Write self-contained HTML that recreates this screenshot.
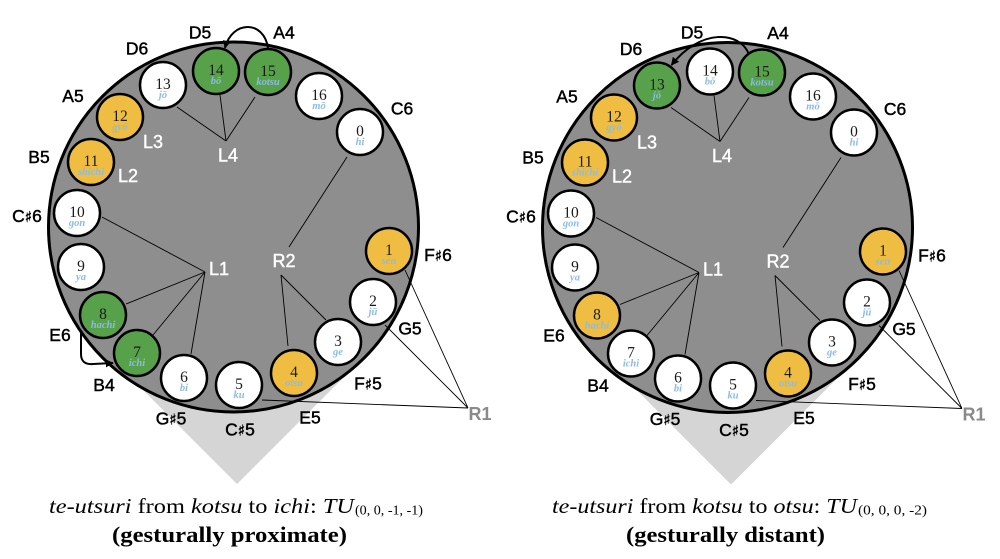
<!DOCTYPE html>
<html>
<head>
<meta charset="utf-8">
<style>
  html, body { margin:0; padding:0; background:#fff; }
  body { width:1000px; height:559px; overflow:hidden; }
  svg { display:block; }
  .n { font-family:"Liberation Serif", serif; font-size:15.5px; fill:#1a1a1a; text-anchor:middle; }
  .s { font-family:"Liberation Serif", serif; font-style:italic; font-weight:bold; font-size:10.5px; fill:#8cbbe3; text-anchor:middle; }
  .lb { font-family:"Liberation Sans", sans-serif; font-size:17.5px; fill:#000; stroke:#000; stroke-width:0.45; text-anchor:middle; }
  .sh { font-family:"DejaVu Sans", sans-serif; font-size:15px; }
  .w { font-family:"Liberation Sans", sans-serif; font-size:18px; fill:#fff; stroke:#fff; stroke-width:0.4; text-anchor:middle; }
  .r1 { font-family:"Liberation Sans", sans-serif; font-size:18px; fill:#8a8a8a; text-anchor:middle; font-weight:bold; }
  .cap { font-family:"Liberation Serif", serif; fill:#000; }
</style>
</head>
<body>
<svg width="1000" height="559" viewBox="0 0 1000 559" xmlns="http://www.w3.org/2000/svg">
  <defs>
    <marker id="ah" viewBox="0 0 10 10" refX="9" refY="5" markerWidth="8" markerHeight="8" orient="auto" markerUnits="userSpaceOnUse">
      <path d="M0,0L10,5L0,10z" fill="#000"/>
    </marker>
  </defs>

  <!-- LEFT DIAGRAM -->
  <g>
    <polygon points="237,484 127,374 347,374" fill="#d5d5d5"/>
    <circle cx="233.5" cy="227" r="185" fill="#8e8e8e" stroke="#000" stroke-width="3"/>
    <g stroke="#000" stroke-width="0.9" fill="none">
      <path d="M226,141L177,107M226,141L220,95M226,141L255,97"/>
      <path d="M205,272L102,217M205,272L126,304M205,272L153,335M205,272L191,354"/>
      <path d="M347,157L289,247M281,275L288,346M281,275L326,320"/>
      <path d="M468,408L405,270M468,408L385,325M468,408L262,400"/>
    </g>
    <g stroke="#000" stroke-width="2.5">
      <g transform="translate(360,132)"><circle r="23" fill="#fff"/><text class="n" y="4" stroke="none">0</text><text class="s" y="13" stroke="none">hi</text></g>
      <g transform="translate(389,251)"><circle r="23" fill="#eebd42"/><text class="n" y="4" stroke="none">1</text><text class="s" y="13" stroke="none">sen</text></g>
      <g transform="translate(373,302)"><circle r="23" fill="#fff"/><text class="n" y="4" stroke="none">2</text><text class="s" y="13" stroke="none">jū</text></g>
      <g transform="translate(338,342)"><circle r="23" fill="#fff"/><text class="n" y="4" stroke="none">3</text><text class="s" y="13" stroke="none">ge</text></g>
      <g transform="translate(294,373)"><circle r="23" fill="#eebd42"/><text class="n" y="4" stroke="none">4</text><text class="s" y="13" stroke="none">otsu</text></g>
      <g transform="translate(239,385)"><circle r="23" fill="#fff"/><text class="n" y="4" stroke="none">5</text><text class="s" y="13" stroke="none">ku</text></g>
      <g transform="translate(184,378)"><circle r="23" fill="#fff"/><text class="n" y="4" stroke="none">6</text><text class="s" y="13" stroke="none">bi</text></g>
      <g transform="translate(137,353)"><circle r="23" fill="#58a14b"/><text class="n" y="4" stroke="none">7</text><text class="s" y="13" stroke="none">ichi</text></g>
      <g transform="translate(103,315)"><circle r="23" fill="#58a14b"/><text class="n" y="4" stroke="none">8</text><text class="s" y="13" stroke="none">hachi</text></g>
      <g transform="translate(81,267)"><circle r="23" fill="#fff"/><text class="n" y="4" stroke="none">9</text><text class="s" y="13" stroke="none">ya</text></g>
      <g transform="translate(77,213)"><circle r="23" fill="#fff"/><text class="n" y="4" stroke="none">10</text><text class="s" y="13" stroke="none">gon</text></g>
      <g transform="translate(91,162)"><circle r="23" fill="#eebd42"/><text class="n" y="4" stroke="none">11</text><text class="s" y="13" stroke="none">shichi</text></g>
      <g transform="translate(120,117)"><circle r="23" fill="#eebd42"/><text class="n" y="4" stroke="none">12</text><text class="s" y="13" stroke="none">gyō</text></g>
      <g transform="translate(163,85)"><circle r="23" fill="#fff"/><text class="n" y="4" stroke="none">13</text><text class="s" y="13" stroke="none">jō</text></g>
      <g transform="translate(216,71)"><circle r="23" fill="#58a14b"/><text class="n" y="4" stroke="none">14</text><text class="s" y="13" stroke="none">bō</text></g>
      <g transform="translate(268,72)"><circle r="23" fill="#58a14b"/><text class="n" y="4" stroke="none">15</text><text class="s" y="13" stroke="none">kotsu</text></g>
      <g transform="translate(319,96)"><circle r="23" fill="#fff"/><text class="n" y="4" stroke="none">16</text><text class="s" y="13" stroke="none">mō</text></g>
    </g>
    <!-- note labels -->
    <text class="lb" x="137" y="54.5">D6</text>
    <text class="lb" x="200" y="38.5">D5</text>
    <text class="lb" x="284" y="38.5">A4</text>
    <text class="lb" x="73" y="102">A5</text>
    <text class="lb" x="402" y="114.5">C6</text>
    <text class="lb" x="39" y="163">B5</text>
    <text class="lb" x="27" y="222">C<tspan class="sh">♯</tspan>6</text>
    <text class="lb" x="438" y="261">F<tspan class="sh">♯</tspan>6</text>
    <text class="lb" x="410" y="334.5">G5</text>
    <text class="lb" x="60" y="341">E6</text>
    <text class="lb" x="104" y="391">B4</text>
    <text class="lb" x="171" y="424.5">G<tspan class="sh">♯</tspan>5</text>
    <text class="lb" x="240" y="435.5">C<tspan class="sh">♯</tspan>5</text>
    <text class="lb" x="310" y="423.5">E5</text>
    <text class="lb" x="368" y="389.5">F<tspan class="sh">♯</tspan>5</text>
    <text class="r1" x="480" y="420">R1</text>
    <text class="w" x="153" y="148">L3</text>
    <text class="w" x="128" y="182">L2</text>
    <text class="w" x="228" y="161.5">L4</text>
    <text class="w" x="219" y="275">L1</text>
    <text class="w" x="284" y="267">R2</text>
    <!-- arrows -->
    <path d="M268,48 C264,20 232,20 225,48" fill="none" stroke="#000" stroke-width="2" marker-end="url(#ah)"/>
    <path d="M81,333 L81,354 Q81,365 93,364 L113,363" fill="none" stroke="#000" stroke-width="2" marker-end="url(#ah)"/>
  </g>

  <!-- RIGHT DIAGRAM -->
  <g transform="translate(494,0.5)">
    <polygon points="237,484 127,374 347,374" fill="#d5d5d5"/>
    <circle cx="233.5" cy="227" r="185" fill="#8e8e8e" stroke="#000" stroke-width="3"/>
    <g stroke="#000" stroke-width="0.9" fill="none">
      <path d="M226,141L177,107M226,141L220,95M226,141L255,97"/>
      <path d="M205,272L102,217M205,272L126,304M205,272L153,335M205,272L191,354"/>
      <path d="M347,157L289,247M281,275L288,346M281,275L326,320"/>
      <path d="M468,408L405,270M468,408L385,325M468,408L262,400"/>
    </g>
    <g stroke="#000" stroke-width="2.5">
      <g transform="translate(360,132)"><circle r="23" fill="#fff"/><text class="n" y="4" stroke="none">0</text><text class="s" y="13" stroke="none">hi</text></g>
      <g transform="translate(389,251)"><circle r="23" fill="#eebd42"/><text class="n" y="4" stroke="none">1</text><text class="s" y="13" stroke="none">sen</text></g>
      <g transform="translate(373,302)"><circle r="23" fill="#fff"/><text class="n" y="4" stroke="none">2</text><text class="s" y="13" stroke="none">jū</text></g>
      <g transform="translate(338,342)"><circle r="23" fill="#fff"/><text class="n" y="4" stroke="none">3</text><text class="s" y="13" stroke="none">ge</text></g>
      <g transform="translate(294,373)"><circle r="23" fill="#eebd42"/><text class="n" y="4" stroke="none">4</text><text class="s" y="13" stroke="none">otsu</text></g>
      <g transform="translate(239,385)"><circle r="23" fill="#fff"/><text class="n" y="4" stroke="none">5</text><text class="s" y="13" stroke="none">ku</text></g>
      <g transform="translate(184,378)"><circle r="23" fill="#fff"/><text class="n" y="4" stroke="none">6</text><text class="s" y="13" stroke="none">bi</text></g>
      <g transform="translate(137,353)"><circle r="23" fill="#fff"/><text class="n" y="4" stroke="none">7</text><text class="s" y="13" stroke="none">ichi</text></g>
      <g transform="translate(103,315)"><circle r="23" fill="#eebd42"/><text class="n" y="4" stroke="none">8</text><text class="s" y="13" stroke="none">hachi</text></g>
      <g transform="translate(81,267)"><circle r="23" fill="#fff"/><text class="n" y="4" stroke="none">9</text><text class="s" y="13" stroke="none">ya</text></g>
      <g transform="translate(77,213)"><circle r="23" fill="#fff"/><text class="n" y="4" stroke="none">10</text><text class="s" y="13" stroke="none">gon</text></g>
      <g transform="translate(91,162)"><circle r="23" fill="#eebd42"/><text class="n" y="4" stroke="none">11</text><text class="s" y="13" stroke="none">shichi</text></g>
      <g transform="translate(120,117)"><circle r="23" fill="#eebd42"/><text class="n" y="4" stroke="none">12</text><text class="s" y="13" stroke="none">gyō</text></g>
      <g transform="translate(163,85)"><circle r="23" fill="#58a14b"/><text class="n" y="4" stroke="none">13</text><text class="s" y="13" stroke="none">jō</text></g>
      <g transform="translate(216,71)"><circle r="23" fill="#fff"/><text class="n" y="4" stroke="none">14</text><text class="s" y="13" stroke="none">bō</text></g>
      <g transform="translate(268,72)"><circle r="23" fill="#58a14b"/><text class="n" y="4" stroke="none">15</text><text class="s" y="13" stroke="none">kotsu</text></g>
      <g transform="translate(319,96)"><circle r="23" fill="#fff"/><text class="n" y="4" stroke="none">16</text><text class="s" y="13" stroke="none">mō</text></g>
    </g>
    <text class="lb" x="137" y="54.5">D6</text>
    <text class="lb" x="198" y="38">D5</text>
    <text class="lb" x="284" y="38.5">A4</text>
    <text class="lb" x="73" y="102">A5</text>
    <text class="lb" x="401" y="114.5">C6</text>
    <text class="lb" x="39" y="163">B5</text>
    <text class="lb" x="27" y="222">C<tspan class="sh">♯</tspan>6</text>
    <text class="lb" x="438" y="261">F<tspan class="sh">♯</tspan>6</text>
    <text class="lb" x="410" y="334.5">G5</text>
    <text class="lb" x="60" y="341">E6</text>
    <text class="lb" x="104" y="391">B4</text>
    <text class="lb" x="171" y="424.5">G<tspan class="sh">♯</tspan>5</text>
    <text class="lb" x="240" y="435.5">C<tspan class="sh">♯</tspan>5</text>
    <text class="lb" x="310" y="423.5">E5</text>
    <text class="lb" x="368" y="389.5">F<tspan class="sh">♯</tspan>5</text>
    <text class="r1" x="480" y="420">R1</text>
    <text class="w" x="153" y="148">L3</text>
    <text class="w" x="128" y="182">L2</text>
    <text class="w" x="228" y="161.5">L4</text>
    <text class="w" x="219" y="275">L1</text>
    <text class="w" x="284" y="267">R2</text>
    <path d="M255,54 C246,30 206,28 177.5,64.5" fill="none" stroke="#000" stroke-width="2" marker-end="url(#ah)"/>
  </g>

  <!-- CAPTIONS -->
  <text class="cap" x="49" y="513" font-size="21" textLength="305" lengthAdjust="spacingAndGlyphs"><tspan font-style="italic">te-utsuri</tspan> from <tspan font-style="italic">kotsu</tspan> to <tspan font-style="italic">ichi</tspan>: <tspan font-style="italic">TU</tspan></text>
  <text class="cap" x="355" y="514.5" font-size="13.5" textLength="68" lengthAdjust="spacingAndGlyphs">(0, 0, -1, -1)</text>
  <text class="cap" x="112" y="542" font-size="22" font-weight="bold" textLength="235" lengthAdjust="spacingAndGlyphs">(gesturally proximate)</text>

  <text class="cap" x="552" y="513" font-size="21" textLength="305" lengthAdjust="spacingAndGlyphs"><tspan font-style="italic">te-utsuri</tspan> from <tspan font-style="italic">kotsu</tspan> to <tspan font-style="italic">otsu</tspan>: <tspan font-style="italic">TU</tspan></text>
  <text class="cap" x="858" y="514.5" font-size="13.5" textLength="69" lengthAdjust="spacingAndGlyphs">(0, 0, 0, -2)</text>
  <text class="cap" x="626" y="542" font-size="22" font-weight="bold" textLength="199" lengthAdjust="spacingAndGlyphs">(gesturally distant)</text>
</svg>
</body>
</html>
